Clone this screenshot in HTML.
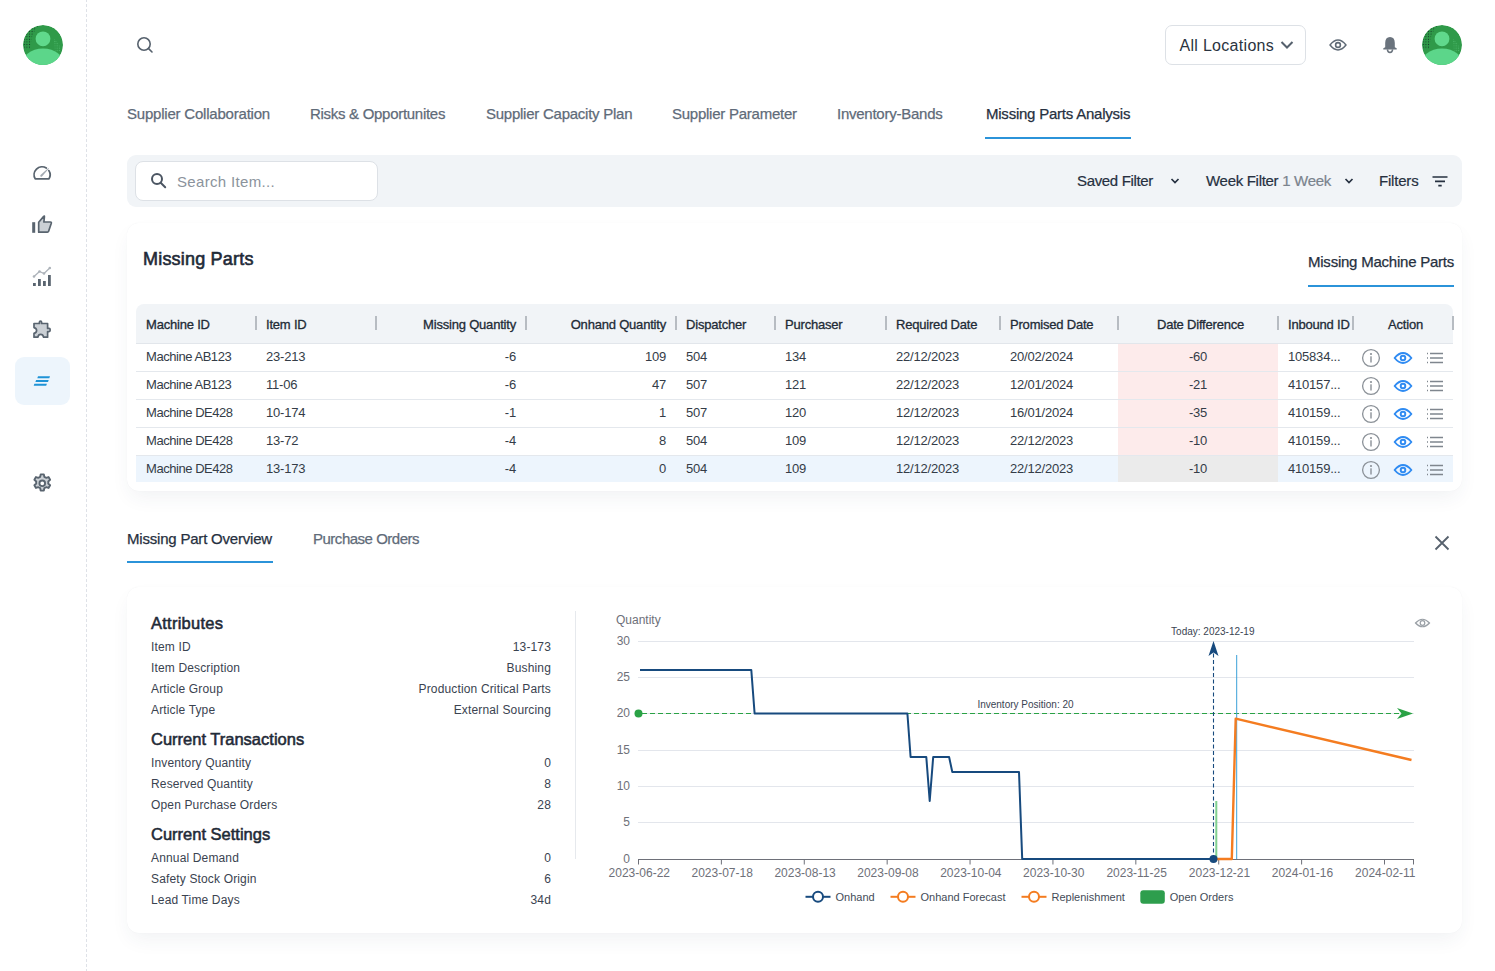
<!DOCTYPE html>
<html><head><meta charset="utf-8">
<style>
*{box-sizing:border-box;margin:0;padding:0}
html,body{width:1495px;height:971px;overflow:hidden;background:#fff;font-family:"Liberation Sans",sans-serif;color:#263040}
.a{position:absolute}
.t{position:absolute;white-space:nowrap;line-height:1}
.sb-line{left:86px;top:0;width:1px;height:971px;background:repeating-linear-gradient(to bottom,#dfe2e8 0 1.8px,transparent 1.8px 4px,#dfe2e8 4px 5px)}
.tab{font-size:15px;color:#5f6b79;letter-spacing:-0.25px;-webkit-text-stroke:0.25px currentColor}
.tab.on{color:#263040}
.card{background:#fff;border-radius:12px;box-shadow:0 9px 20px -3px rgba(40,60,90,0.065),0 0 1px rgba(40,60,90,0.07)}
.th{font-size:13px;font-weight:400;color:#222b36;letter-spacing:-0.2px;-webkit-text-stroke:0.3px currentColor}
.td{font-size:13px;color:#343c47;letter-spacing:-0.45px}
.sep{position:absolute;top:12px;width:2px;height:14px;background:#b7bcc2}
.row{position:absolute;left:0;width:1317px;height:28px;border-bottom:1px solid #e4e8ed}
.attr{font-size:12px;color:#3a4350;letter-spacing:0.15px}
.h3{font-size:17px;font-weight:700;color:#1f2a37;letter-spacing:-0.8px}
.ax{font-size:12px;color:#6e7079}
</style></head>
<body>
<!-- sidebar -->
<div class="a sb-line"></div>
<svg class="a" style="left:23px;top:25px" width="40" height="40" viewBox="0 0 40 40"><defs><clipPath id="c23"><circle cx="20" cy="20" r="20"/></clipPath></defs><g clip-path="url(#c23)"><circle cx="20" cy="20" r="20" fill="#2f9a49"/><defs><pattern id="dk23" width="2.6" height="2.6" patternUnits="userSpaceOnUse"><circle cx="1.3" cy="1.3" r="0.6" fill="#17402a"/></pattern><pattern id="lt23" width="2.2" height="2.2" patternUnits="userSpaceOnUse"><circle cx="1.1" cy="1.1" r="0.5" fill="#6fdc95"/></pattern></defs><path d="M1 16 Q3 3 16 1 Q11 5 9 12 Q8 18 7 24 L1 24 Z" fill="url(#dk23)"/><path d="M31 14 Q37 18 38 26 L32 28 Z" fill="url(#lt23)" opacity="0.7"/><circle cx="20" cy="13.8" r="7.4" fill="#60d98c"/><ellipse cx="20" cy="41.5" rx="22" ry="18" fill="#5cd68a"/></g></svg>
<svg class="a" style="left:28px;top:159px" width="28" height="28" viewBox="0 0 28 28"><path d="M18.3 9.0 A8 8 0 0 0 7.23 19.9 L20.97 19.9 A8 8 0 0 0 20.9 11.6" fill="none" stroke="#59646f" stroke-width="1.8" stroke-linejoin="round" stroke-linecap="round"/><path d="M12.5 16.0 L20.4 9.0 L20.9 9.5 L14.0 17.6 Q13.1 18.1 12.5 17.5 Q12.0 16.8 12.5 16.0 Z" fill="#a3aab2"/></svg>
<svg class="a" style="left:28px;top:210px" width="28" height="28" viewBox="0 0 28 28"><rect x="4.2" y="12.2" width="3" height="10.6" fill="#59646f"/><path d="M10.7 22.2 V12.2 L15.7 6.4 Q16.5 5.6 16.4 6.8 L15.9 12 H22.4 Q23.6 12 23.3 13.2 L20.6 21.3 Q20.3 22.2 19.4 22.2 Z" fill="#cbd0d5" stroke="#59646f" stroke-width="1.7" stroke-linejoin="round"/></svg>
<svg class="a" style="left:31px;top:266px" width="22" height="21" viewBox="0 0 22 21"><rect x="2" y="17" width="2.8" height="3" fill="#59646f"/><rect x="7" y="13" width="2.8" height="7" fill="#59646f"/><rect x="12" y="15" width="2.8" height="5" fill="#59646f"/><rect x="17" y="9" width="2.8" height="11" fill="#59646f"/><path d="M3 10.5 L8.5 5.5 L13 7.5 L18.8 2" fill="none" stroke="#adb3ba" stroke-width="1.3"/><circle cx="8.5" cy="5.5" r="1.3" fill="#adb3ba"/><circle cx="13" cy="7.5" r="1.3" fill="#adb3ba"/><circle cx="18.8" cy="2" r="1.3" fill="#adb3ba"/><circle cx="3" cy="10.5" r="1.3" fill="#adb3ba"/></svg>
<svg class="a" style="left:28px;top:314px" width="28" height="28" viewBox="0 0 28 28"><path d="M6 9.5 H11.4 V8.2 Q11.4 7 12.5 7 Q13.6 7 13.6 8.2 V9.5 H19.6 V14.4 H21 Q22.2 14.4 22.2 16 Q22.2 17.6 21 17.6 H19.6 V23.2 H15.6 Q15 20.4 12.7 20.4 Q10.4 20.4 9.8 23.2 H6 V19.4 Q8.6 18.8 8.6 16.5 Q8.6 14.2 6 13.6 Z" fill="#cbd0d5" stroke="#59646f" stroke-width="1.7" stroke-linejoin="round"/></svg>
<div class="a" style="left:15px;top:357px;width:55px;height:48px;border-radius:9px;background:#edf5fc"></div>
<svg class="a" style="left:33px;top:375px" width="19" height="12" viewBox="0 0 19 12"><path d="M5 1.3 H17 L16.3 3.3 H4.3 Z M3.1 5 H15.7 L15 7 H2.4 Z M1.4 8.7 H13.9 L13.2 10.7 H0.7 Z" fill="#1f93d6"/></svg>
<svg class="a" style="left:30.8px;top:471.6px" width="22.5" height="22.5" viewBox="0 0 24 24"><path d="M10.3 2.5 h3.4 l.5 2.6 a7.5 7.5 0 0 1 2 1.15 l2.5-.9 1.7 2.95 -2 1.75 a7.5 7.5 0 0 1 0 2.3 l2 1.75 -1.7 2.95 -2.5-.9 a7.5 7.5 0 0 1-2 1.15 l-.5 2.6 h-3.4 l-.5-2.6 a7.5 7.5 0 0 1-2-1.15 l-2.5.9 -1.7-2.95 2-1.75 a7.5 7.5 0 0 1 0-2.3 l-2-1.75 1.7-2.95 2.5.9 a7.5 7.5 0 0 1 2-1.15 z" fill="#cbd0d5" stroke="#59646f" stroke-width="2" stroke-linejoin="round"/><circle cx="12" cy="12" r="3" fill="#fff" stroke="#59646f" stroke-width="2"/></svg>

<!-- header -->

<svg class="a" style="left:135px;top:35px" width="20" height="20" viewBox="0 0 20 20"><circle cx="9" cy="9" r="6.2" fill="none" stroke="#56616d" stroke-width="1.6"/><path d="M13.6 13.6 L17 17" stroke="#56616d" stroke-width="1.6" stroke-linecap="round"/></svg>
<div class="a" style="left:1165px;top:25px;width:141px;height:40px;border:1px solid #dde1e6;border-radius:7px"></div>
<div class="t" style="left:1179.5px;top:38px;font-size:16px;color:#2a3340;letter-spacing:0.3px">All Locations</div>
<svg class="a" style="left:1280px;top:40px" width="14" height="10" viewBox="0 0 14 10"><path d="M1.5 2 L7 7.5 L12.5 2" fill="none" stroke="#56616d" stroke-width="2"/></svg>
<svg class="a" style="left:1328px;top:37px" width="20" height="16" viewBox="0 0 20 16"><path d="M2 8 Q10 -1.8 18 8 Q10 17.8 2 8 Z" fill="none" stroke="#5f6a76" stroke-width="1.5" stroke-linejoin="round"/><circle cx="10" cy="8" r="2.4" fill="none" stroke="#5f6a76" stroke-width="1.6"/></svg>
<svg class="a" style="left:1376px;top:31px" width="28" height="28" viewBox="0 0 28 28"><path d="M14 6 Q18.8 6 18.8 12 V16.2 L20.6 17.2 Q21.4 18.5 20.2 18.5 H7.8 Q6.6 18.5 7.4 17.2 L9.2 16.2 V12 Q9.2 6 14 6 Z" fill="#6a737d"/><path d="M11.4 18.4 Q11.6 21.4 14 21.4 Q16.4 21.4 16.6 18.4" fill="none" stroke="#6a737d" stroke-width="1.5"/></svg>
<svg class="a" style="left:1422px;top:25px" width="40" height="40" viewBox="0 0 40 40"><defs><clipPath id="c1422"><circle cx="20" cy="20" r="20"/></clipPath></defs><g clip-path="url(#c1422)"><circle cx="20" cy="20" r="20" fill="#2f9a49"/><defs><pattern id="dk1422" width="2.6" height="2.6" patternUnits="userSpaceOnUse"><circle cx="1.3" cy="1.3" r="0.6" fill="#17402a"/></pattern><pattern id="lt1422" width="2.2" height="2.2" patternUnits="userSpaceOnUse"><circle cx="1.1" cy="1.1" r="0.5" fill="#6fdc95"/></pattern></defs><path d="M1 16 Q3 3 16 1 Q11 5 9 12 Q8 18 7 24 L1 24 Z" fill="url(#dk1422)"/><path d="M31 14 Q37 18 38 26 L32 28 Z" fill="url(#lt1422)" opacity="0.7"/><circle cx="20" cy="13.8" r="7.4" fill="#60d98c"/><ellipse cx="20" cy="41.5" rx="22" ry="18" fill="#5cd68a"/></g></svg>
<!-- tabs -->

<div class="t tab" style="left:127px;top:106px;letter-spacing:-0.21px">Supplier Collaboration</div>
<div class="t tab" style="left:310px;top:106px;letter-spacing:-0.29px">Risks &amp; Opportunites</div>
<div class="t tab" style="left:486px;top:106px" id="tb3">Supplier Capacity Plan</div>
<div class="t tab" style="left:672px;top:106px" id="tb4">Supplier Parameter</div>
<div class="t tab" style="left:837px;top:106px" id="tb5">Inventory-Bands</div>
<div class="t tab on" style="left:986px;top:106px;letter-spacing:-0.23px">Missing Parts Analysis</div>
<div class="a" style="left:985px;top:137px;width:146px;height:2px;background:#2b93d9"></div>

<!-- filter bar -->

<div class="a" style="left:127px;top:155px;width:1335px;height:52px;border-radius:9px;background:#f1f4f7"></div>
<div class="a" style="left:135px;top:161px;width:243px;height:40px;border-radius:8px;background:#fff;border:1px solid #dde1e6"></div>
<svg class="a" style="left:150px;top:172px" width="18" height="18" viewBox="0 0 18 18"><circle cx="7" cy="7" r="5" fill="none" stroke="#4b5562" stroke-width="2"/><path d="M10.7 10.7 L15.2 15.2" stroke="#4b5562" stroke-width="2" stroke-linecap="round"/></svg>
<div class="t" style="left:177px;top:174px;font-size:15px;color:#8b939c;letter-spacing:0.33px">Search Item...</div>
<div class="t" style="left:1077px;top:173px;font-size:15px;color:#263040;-webkit-text-stroke:0.2px currentColor;letter-spacing:-0.34px">Saved Filter</div>
<svg class="a" style="left:1170px;top:177px" width="10" height="8" viewBox="0 0 10 8"><path d="M1.5 2 L5 5.5 L8.5 2" fill="none" stroke="#263040" stroke-width="1.7"/></svg>
<div class="t" id="wf" style="left:1206px;top:173px;font-size:15px;color:#263040;-webkit-text-stroke:0.2px currentColor;letter-spacing:-0.3px">Week Filter <span style="color:#7a838d">1 Week</span></div>
<svg class="a" style="left:1344px;top:177px" width="10" height="8" viewBox="0 0 10 8"><path d="M1.5 2 L5 5.5 L8.5 2" fill="none" stroke="#263040" stroke-width="1.7"/></svg>
<div class="t" id="fl" style="left:1379px;top:173px;font-size:15px;color:#263040;-webkit-text-stroke:0.2px currentColor;letter-spacing:-0.2px">Filters</div>
<svg class="a" style="left:1432px;top:174.7px" width="16" height="14" viewBox="0 0 16 14"><path d="M0.5 2 H15.5 M3 6.3 H13 M6.3 10.6 H9.7" stroke="#263040" stroke-width="1.7"/></svg>

<!-- missing parts card -->
<!--MPS-->
<div class="a card" style="left:127px;top:223px;width:1335px;height:268px"></div>
<div class="t" style="left:143px;top:250px;font-size:18px;font-weight:400;-webkit-text-stroke:0.6px currentColor;color:#1f2a37;letter-spacing:0.2px">Missing Parts</div>
<div class="t tab on" style="left:1308px;top:254px;letter-spacing:-0.23px">Missing Machine Parts</div>
<div class="a" style="left:1308px;top:285px;width:146px;height:2px;background:#2b93d9"></div>
<div class="a" style="left:136px;top:304px;width:1317px;height:178px">
<div class="a" style="left:0;top:0;width:1317px;height:40px;background:#f1f4f7;border-radius:8px 8px 0 0;border-bottom:1px solid #e2e6eb"></div>
<div class="t th" style="left:10px;top:13.5px;">Machine ID</div>
<div class="t th" style="left:130px;top:13.5px;">Item ID</div>
<div class="t th" style="left:240px;top:13.5px;width:140px;text-align:right;">Missing Quantity</div>
<div class="t th" style="left:390px;top:13.5px;width:140px;text-align:right;">Onhand Quantity</div>
<div class="t th" style="left:550px;top:13.5px;">Dispatcher</div>
<div class="t th" style="left:649px;top:13.5px;">Purchaser</div>
<div class="t th" style="left:760px;top:13.5px;">Required Date</div>
<div class="t th" style="left:874px;top:13.5px;">Promised Date</div>
<div class="t th" style="left:984.5px;top:13.5px;width:160px;text-align:center;">Date Difference</div>
<div class="t th" style="left:1152px;top:13.5px;">Inbound ID</div>
<div class="t th" style="left:1219.5px;top:13.5px;width:100px;text-align:center;">Action</div>
<div class="sep" style="left:119px"></div>
<div class="sep" style="left:239px"></div>
<div class="sep" style="left:389px"></div>
<div class="sep" style="left:539px"></div>
<div class="sep" style="left:638px"></div>
<div class="sep" style="left:749px"></div>
<div class="sep" style="left:863px"></div>
<div class="sep" style="left:981px"></div>
<div class="sep" style="left:1141px"></div>
<div class="sep" style="left:1216px"></div>
<div class="sep" style="left:1316px"></div>
<div class="a" style="left:0;top:67px;width:1317px;height:1px;background:#e4e8ed"></div>
<div class="a" style="left:982px;top:40px;width:160px;height:27px;background:#fdebeb"></div>
<div class="t td" style="left:10px;top:46px;letter-spacing:-0.45px">Machine AB123</div>
<div class="t td" style="left:130px;top:46px;letter-spacing:-0.2px">23-213</div>
<div class="t td" style="left:240px;top:46px;width:140px;text-align:right;letter-spacing:-0.2px">-6</div>
<div class="t td" style="left:390px;top:46px;width:140px;text-align:right;letter-spacing:-0.2px">109</div>
<div class="t td" style="left:550px;top:46px;letter-spacing:-0.2px">504</div>
<div class="t td" style="left:649px;top:46px;letter-spacing:-0.2px">134</div>
<div class="t td" style="left:760px;top:46px;letter-spacing:-0.2px">22/12/2023</div>
<div class="t td" style="left:874px;top:46px;letter-spacing:-0.2px">20/02/2024</div>
<div class="t td" style="left:982px;top:46px;width:160px;text-align:center;letter-spacing:-0.2px">-60</div>
<div class="t td" style="left:1152px;top:46px;letter-spacing:-0.2px">105834...</div>
<svg class="a" style="left:1225px;top:43.5px" width="20" height="20" viewBox="0 0 20 20"><circle cx="10" cy="10" r="8.4" fill="none" stroke="#8b9198" stroke-width="1.3"/><circle cx="10" cy="6" r="1.1" fill="#8b9198"/><rect x="9.3" y="8.3" width="1.4" height="6.2" fill="#8b9198"/></svg>
<svg class="a" style="left:1257px;top:45.5px" width="20" height="16" viewBox="0 0 20 16"><path d="M1.6 8 Q10 -2 18.4 8 Q10 18 1.6 8 Z" fill="none" stroke="#2f8bf2" stroke-width="1.9" stroke-linejoin="round"/><circle cx="10" cy="8" r="2.3" fill="none" stroke="#2f8bf2" stroke-width="1.9"/></svg>
<svg class="a" style="left:1290px;top:47.5px" width="18" height="14" viewBox="0 0 18 14"><path d="M4 1.5 H17 M4 6 H17 M4 10.5 H17" stroke="#7f868e" stroke-width="1.6"/><path d="M1 1.5 H2 M1 6 H2 M1 10.5 H2" stroke="#7f868e" stroke-width="1.4"/></svg>
<div class="a" style="left:0;top:95px;width:1317px;height:1px;background:#e4e8ed"></div>
<div class="a" style="left:982px;top:68px;width:160px;height:27px;background:#fdebeb"></div>
<div class="t td" style="left:10px;top:74px;letter-spacing:-0.45px">Machine AB123</div>
<div class="t td" style="left:130px;top:74px;letter-spacing:-0.2px">11-06</div>
<div class="t td" style="left:240px;top:74px;width:140px;text-align:right;letter-spacing:-0.2px">-6</div>
<div class="t td" style="left:390px;top:74px;width:140px;text-align:right;letter-spacing:-0.2px">47</div>
<div class="t td" style="left:550px;top:74px;letter-spacing:-0.2px">507</div>
<div class="t td" style="left:649px;top:74px;letter-spacing:-0.2px">121</div>
<div class="t td" style="left:760px;top:74px;letter-spacing:-0.2px">22/12/2023</div>
<div class="t td" style="left:874px;top:74px;letter-spacing:-0.2px">12/01/2024</div>
<div class="t td" style="left:982px;top:74px;width:160px;text-align:center;letter-spacing:-0.2px">-21</div>
<div class="t td" style="left:1152px;top:74px;letter-spacing:-0.2px">410157...</div>
<svg class="a" style="left:1225px;top:71.5px" width="20" height="20" viewBox="0 0 20 20"><circle cx="10" cy="10" r="8.4" fill="none" stroke="#8b9198" stroke-width="1.3"/><circle cx="10" cy="6" r="1.1" fill="#8b9198"/><rect x="9.3" y="8.3" width="1.4" height="6.2" fill="#8b9198"/></svg>
<svg class="a" style="left:1257px;top:73.5px" width="20" height="16" viewBox="0 0 20 16"><path d="M1.6 8 Q10 -2 18.4 8 Q10 18 1.6 8 Z" fill="none" stroke="#2f8bf2" stroke-width="1.9" stroke-linejoin="round"/><circle cx="10" cy="8" r="2.3" fill="none" stroke="#2f8bf2" stroke-width="1.9"/></svg>
<svg class="a" style="left:1290px;top:75.5px" width="18" height="14" viewBox="0 0 18 14"><path d="M4 1.5 H17 M4 6 H17 M4 10.5 H17" stroke="#7f868e" stroke-width="1.6"/><path d="M1 1.5 H2 M1 6 H2 M1 10.5 H2" stroke="#7f868e" stroke-width="1.4"/></svg>
<div class="a" style="left:0;top:123px;width:1317px;height:1px;background:#e4e8ed"></div>
<div class="a" style="left:982px;top:96px;width:160px;height:27px;background:#fdebeb"></div>
<div class="t td" style="left:10px;top:102px;letter-spacing:-0.45px">Machine DE428</div>
<div class="t td" style="left:130px;top:102px;letter-spacing:-0.2px">10-174</div>
<div class="t td" style="left:240px;top:102px;width:140px;text-align:right;letter-spacing:-0.2px">-1</div>
<div class="t td" style="left:390px;top:102px;width:140px;text-align:right;letter-spacing:-0.2px">1</div>
<div class="t td" style="left:550px;top:102px;letter-spacing:-0.2px">507</div>
<div class="t td" style="left:649px;top:102px;letter-spacing:-0.2px">120</div>
<div class="t td" style="left:760px;top:102px;letter-spacing:-0.2px">12/12/2023</div>
<div class="t td" style="left:874px;top:102px;letter-spacing:-0.2px">16/01/2024</div>
<div class="t td" style="left:982px;top:102px;width:160px;text-align:center;letter-spacing:-0.2px">-35</div>
<div class="t td" style="left:1152px;top:102px;letter-spacing:-0.2px">410159...</div>
<svg class="a" style="left:1225px;top:99.5px" width="20" height="20" viewBox="0 0 20 20"><circle cx="10" cy="10" r="8.4" fill="none" stroke="#8b9198" stroke-width="1.3"/><circle cx="10" cy="6" r="1.1" fill="#8b9198"/><rect x="9.3" y="8.3" width="1.4" height="6.2" fill="#8b9198"/></svg>
<svg class="a" style="left:1257px;top:101.5px" width="20" height="16" viewBox="0 0 20 16"><path d="M1.6 8 Q10 -2 18.4 8 Q10 18 1.6 8 Z" fill="none" stroke="#2f8bf2" stroke-width="1.9" stroke-linejoin="round"/><circle cx="10" cy="8" r="2.3" fill="none" stroke="#2f8bf2" stroke-width="1.9"/></svg>
<svg class="a" style="left:1290px;top:103.5px" width="18" height="14" viewBox="0 0 18 14"><path d="M4 1.5 H17 M4 6 H17 M4 10.5 H17" stroke="#7f868e" stroke-width="1.6"/><path d="M1 1.5 H2 M1 6 H2 M1 10.5 H2" stroke="#7f868e" stroke-width="1.4"/></svg>
<div class="a" style="left:0;top:151px;width:1317px;height:1px;background:#e4e8ed"></div>
<div class="a" style="left:982px;top:124px;width:160px;height:27px;background:#fdebeb"></div>
<div class="t td" style="left:10px;top:130px;letter-spacing:-0.45px">Machine DE428</div>
<div class="t td" style="left:130px;top:130px;letter-spacing:-0.2px">13-72</div>
<div class="t td" style="left:240px;top:130px;width:140px;text-align:right;letter-spacing:-0.2px">-4</div>
<div class="t td" style="left:390px;top:130px;width:140px;text-align:right;letter-spacing:-0.2px">8</div>
<div class="t td" style="left:550px;top:130px;letter-spacing:-0.2px">504</div>
<div class="t td" style="left:649px;top:130px;letter-spacing:-0.2px">109</div>
<div class="t td" style="left:760px;top:130px;letter-spacing:-0.2px">12/12/2023</div>
<div class="t td" style="left:874px;top:130px;letter-spacing:-0.2px">22/12/2023</div>
<div class="t td" style="left:982px;top:130px;width:160px;text-align:center;letter-spacing:-0.2px">-10</div>
<div class="t td" style="left:1152px;top:130px;letter-spacing:-0.2px">410159...</div>
<svg class="a" style="left:1225px;top:127.5px" width="20" height="20" viewBox="0 0 20 20"><circle cx="10" cy="10" r="8.4" fill="none" stroke="#8b9198" stroke-width="1.3"/><circle cx="10" cy="6" r="1.1" fill="#8b9198"/><rect x="9.3" y="8.3" width="1.4" height="6.2" fill="#8b9198"/></svg>
<svg class="a" style="left:1257px;top:129.5px" width="20" height="16" viewBox="0 0 20 16"><path d="M1.6 8 Q10 -2 18.4 8 Q10 18 1.6 8 Z" fill="none" stroke="#2f8bf2" stroke-width="1.9" stroke-linejoin="round"/><circle cx="10" cy="8" r="2.3" fill="none" stroke="#2f8bf2" stroke-width="1.9"/></svg>
<svg class="a" style="left:1290px;top:131.5px" width="18" height="14" viewBox="0 0 18 14"><path d="M4 1.5 H17 M4 6 H17 M4 10.5 H17" stroke="#7f868e" stroke-width="1.6"/><path d="M1 1.5 H2 M1 6 H2 M1 10.5 H2" stroke="#7f868e" stroke-width="1.4"/></svg>
<div class="a" style="left:0;top:152px;width:1317px;height:26px;background:#edf5fd"></div>
<div class="a" style="left:982px;top:152px;width:160px;height:26px;background:#ebebeb"></div>
<div class="t td" style="left:10px;top:158px;letter-spacing:-0.45px">Machine DE428</div>
<div class="t td" style="left:130px;top:158px;letter-spacing:-0.2px">13-173</div>
<div class="t td" style="left:240px;top:158px;width:140px;text-align:right;letter-spacing:-0.2px">-4</div>
<div class="t td" style="left:390px;top:158px;width:140px;text-align:right;letter-spacing:-0.2px">0</div>
<div class="t td" style="left:550px;top:158px;letter-spacing:-0.2px">504</div>
<div class="t td" style="left:649px;top:158px;letter-spacing:-0.2px">109</div>
<div class="t td" style="left:760px;top:158px;letter-spacing:-0.2px">12/12/2023</div>
<div class="t td" style="left:874px;top:158px;letter-spacing:-0.2px">22/12/2023</div>
<div class="t td" style="left:982px;top:158px;width:160px;text-align:center;letter-spacing:-0.2px">-10</div>
<div class="t td" style="left:1152px;top:158px;letter-spacing:-0.2px">410159...</div>
<svg class="a" style="left:1225px;top:155.5px" width="20" height="20" viewBox="0 0 20 20"><circle cx="10" cy="10" r="8.4" fill="none" stroke="#8b9198" stroke-width="1.3"/><circle cx="10" cy="6" r="1.1" fill="#8b9198"/><rect x="9.3" y="8.3" width="1.4" height="6.2" fill="#8b9198"/></svg>
<svg class="a" style="left:1257px;top:157.5px" width="20" height="16" viewBox="0 0 20 16"><path d="M1.6 8 Q10 -2 18.4 8 Q10 18 1.6 8 Z" fill="none" stroke="#2f8bf2" stroke-width="1.9" stroke-linejoin="round"/><circle cx="10" cy="8" r="2.3" fill="none" stroke="#2f8bf2" stroke-width="1.9"/></svg>
<svg class="a" style="left:1290px;top:159.5px" width="18" height="14" viewBox="0 0 18 14"><path d="M4 1.5 H17 M4 6 H17 M4 10.5 H17" stroke="#7f868e" stroke-width="1.6"/><path d="M1 1.5 H2 M1 6 H2 M1 10.5 H2" stroke="#7f868e" stroke-width="1.4"/></svg>
</div>
<!--MPE-->
<!-- bottom tabs -->

<div class="t tab on" style="left:127px;top:531px;letter-spacing:-0.2px">Missing Part Overview</div>
<div class="t tab" style="left:313px;top:531px;letter-spacing:-0.49px">Purchase Orders</div>
<div class="a" style="left:127px;top:561px;width:146px;height:2px;background:#2b93d9"></div>
<svg class="a" style="left:1433px;top:534px" width="18" height="18" viewBox="0 0 18 18"><path d="M2.5 2.5 L15.5 15.5 M15.5 2.5 L2.5 15.5" stroke="#56616d" stroke-width="1.8"/></svg>

<!-- overview card -->
<div class="a card" style="left:127px;top:587px;width:1335px;height:346px"></div>
<div class="t" style="left:151px;top:615px;font-size:16.5px;font-weight:400;-webkit-text-stroke:0.55px currentColor;color:#1f2a37;letter-spacing:0.25px">Attributes</div>
<div class="t attr" style="left:151px;top:641px">Item ID</div><div class="t attr" style="left:351px;width:200px;text-align:right;top:641px">13-173</div>
<div class="t attr" style="left:151px;top:662px">Item Description</div><div class="t attr" style="left:351px;width:200px;text-align:right;top:662px">Bushing</div>
<div class="t attr" style="left:151px;top:683px">Article Group</div><div class="t attr" style="left:351px;width:200px;text-align:right;top:683px">Production Critical Parts</div>
<div class="t attr" style="left:151px;top:704px">Article Type</div><div class="t attr" style="left:351px;width:200px;text-align:right;top:704px">External Sourcing</div>
<div class="t" style="left:151px;top:731px;font-size:16.5px;font-weight:400;-webkit-text-stroke:0.55px currentColor;color:#1f2a37;letter-spacing:0px">Current Transactions</div>
<div class="t attr" style="left:151px;top:757px">Inventory Quantity</div><div class="t attr" style="left:351px;width:200px;text-align:right;top:757px">0</div>
<div class="t attr" style="left:151px;top:778px">Reserved Quantity</div><div class="t attr" style="left:351px;width:200px;text-align:right;top:778px">8</div>
<div class="t attr" style="left:151px;top:799px">Open Purchase Orders</div><div class="t attr" style="left:351px;width:200px;text-align:right;top:799px">28</div>
<div class="t" style="left:151px;top:826px;font-size:16.5px;font-weight:400;-webkit-text-stroke:0.55px currentColor;color:#1f2a37;letter-spacing:0px">Current Settings</div>
<div class="t attr" style="left:151px;top:852px">Annual Demand</div><div class="t attr" style="left:351px;width:200px;text-align:right;top:852px">0</div>
<div class="t attr" style="left:151px;top:873px">Safety Stock Origin</div><div class="t attr" style="left:351px;width:200px;text-align:right;top:873px">6</div>
<div class="t attr" style="left:151px;top:894px">Lead Time Days</div><div class="t attr" style="left:351px;width:200px;text-align:right;top:894px">34d</div>
<div class="a" style="left:575px;top:611px;width:1px;height:248px;background:#e6e9ed"></div>
<!--CHS--><svg class="a" style="left:0;top:0" width="1495" height="971" viewBox="0 0 1495 971" font-family="Liberation Sans, sans-serif">
<text x="616" y="624" font-size="12" fill="#6e7079">Quantity</text>
<line x1="638" y1="641.5" x2="1414" y2="641.5" stroke="#e3e6ec" stroke-width="1"/>
<text x="630" y="645.0" font-size="12" fill="#6e7079" text-anchor="end">30</text>
<line x1="638" y1="677.5" x2="1414" y2="677.5" stroke="#e3e6ec" stroke-width="1"/>
<text x="630" y="681.0" font-size="12" fill="#6e7079" text-anchor="end">25</text>
<line x1="638" y1="713.5" x2="1414" y2="713.5" stroke="#e3e6ec" stroke-width="1"/>
<text x="630" y="717.0" font-size="12" fill="#6e7079" text-anchor="end">20</text>
<line x1="638" y1="750.5" x2="1414" y2="750.5" stroke="#e3e6ec" stroke-width="1"/>
<text x="630" y="754.0" font-size="12" fill="#6e7079" text-anchor="end">15</text>
<line x1="638" y1="786.5" x2="1414" y2="786.5" stroke="#e3e6ec" stroke-width="1"/>
<text x="630" y="790.0" font-size="12" fill="#6e7079" text-anchor="end">10</text>
<line x1="638" y1="822.5" x2="1414" y2="822.5" stroke="#e3e6ec" stroke-width="1"/>
<text x="630" y="826.0" font-size="12" fill="#6e7079" text-anchor="end">5</text>
<text x="630" y="863.0" font-size="12" fill="#6e7079" text-anchor="end">0</text>
<line x1="638" y1="859.5" x2="1414" y2="859.5" stroke="#6e7079" stroke-width="1"/>
<line x1="638.50" y1="859.5" x2="638.50" y2="864.5" stroke="#6e7079" stroke-width="1"/>
<text x="639.30" y="876.8" font-size="12" fill="#6e7079" text-anchor="middle">2023-06-22</text>
<line x1="721.39" y1="859.5" x2="721.39" y2="864.5" stroke="#6e7079" stroke-width="1"/>
<text x="722.19" y="876.8" font-size="12" fill="#6e7079" text-anchor="middle">2023-07-18</text>
<line x1="804.28" y1="859.5" x2="804.28" y2="864.5" stroke="#6e7079" stroke-width="1"/>
<text x="805.08" y="876.8" font-size="12" fill="#6e7079" text-anchor="middle">2023-08-13</text>
<line x1="887.17" y1="859.5" x2="887.17" y2="864.5" stroke="#6e7079" stroke-width="1"/>
<text x="887.97" y="876.8" font-size="12" fill="#6e7079" text-anchor="middle">2023-09-08</text>
<line x1="970.06" y1="859.5" x2="970.06" y2="864.5" stroke="#6e7079" stroke-width="1"/>
<text x="970.86" y="876.8" font-size="12" fill="#6e7079" text-anchor="middle">2023-10-04</text>
<line x1="1052.95" y1="859.5" x2="1052.95" y2="864.5" stroke="#6e7079" stroke-width="1"/>
<text x="1053.75" y="876.8" font-size="12" fill="#6e7079" text-anchor="middle">2023-10-30</text>
<line x1="1135.84" y1="859.5" x2="1135.84" y2="864.5" stroke="#6e7079" stroke-width="1"/>
<text x="1136.64" y="876.8" font-size="12" fill="#6e7079" text-anchor="middle">2023-11-25</text>
<line x1="1218.73" y1="859.5" x2="1218.73" y2="864.5" stroke="#6e7079" stroke-width="1"/>
<text x="1219.53" y="876.8" font-size="12" fill="#6e7079" text-anchor="middle">2023-12-21</text>
<line x1="1301.62" y1="859.5" x2="1301.62" y2="864.5" stroke="#6e7079" stroke-width="1"/>
<text x="1302.42" y="876.8" font-size="12" fill="#6e7079" text-anchor="middle">2024-01-16</text>
<line x1="1384.51" y1="859.5" x2="1384.51" y2="864.5" stroke="#6e7079" stroke-width="1"/>
<text x="1385.31" y="876.8" font-size="12" fill="#6e7079" text-anchor="middle">2024-02-11</text>
<line x1="1413.5" y1="859.5" x2="1413.5" y2="864.5" stroke="#6e7079" stroke-width="1"/>
<line x1="642" y1="713.5" x2="1400" y2="713.5" stroke="#2aa245" stroke-width="1.2" stroke-dasharray="5 3"/>
<path d="M1413 713.5 L1397 708 L1401.5 713.5 L1397 719 Z" fill="#2aa245"/>
<circle cx="638.5" cy="713.5" r="4" fill="#2aa245"/>
<text x="1025.5" y="708" font-size="10" fill="#3a4452" text-anchor="middle">Inventory Position: 20</text>
<rect x="1215.3" y="801" width="2" height="58" fill="#80d08f"/>
<line x1="1236.7" y1="655" x2="1236.7" y2="859" stroke="#3aa0d8" stroke-width="1"/>
<polyline points="640,670 751.3,670 754.6,713.5 907.4,713.5 910.6,757 926.3,757 929.7,801 933.2,757 949.1,757 952.3,772 1019,772 1022.2,859 1213.5,859" fill="none" stroke="#174a7e" stroke-width="2" stroke-linejoin="round"/>
<line x1="1213.5" y1="859" x2="1213.5" y2="652" stroke="#174a7e" stroke-width="1.1" stroke-dasharray="4 2.5"/>
<path d="M1213.5 641 L1208.5 656 L1213.5 652.5 L1218.5 656 Z" fill="#174a7e"/>
<text x="1212.8" y="635.3" font-size="10" fill="#3a4452" text-anchor="middle">Today: 2023-12-19</text>
<polyline points="1213.5,859 1231.8,859 1235.7,718.7 1411.5,760" fill="none" stroke="#f47c20" stroke-width="2.4" stroke-linejoin="round"/>
<circle cx="1213.5" cy="859" r="4" fill="#174a7e"/>
<path d="M1415.5 623 Q1422.5 615.5 1429.5 623 Q1422.5 630.5 1415.5 623 Z" fill="none" stroke="#9aa0a6" stroke-width="1.2"/><circle cx="1422.5" cy="623" r="2.3" fill="none" stroke="#9aa0a6" stroke-width="1.2"/>
<line x1="805.5" y1="896.8" x2="830.5" y2="896.8" stroke="#174a7e" stroke-width="2"/><circle cx="818.0" cy="896.8" r="5" fill="#fff" stroke="#174a7e" stroke-width="2"/><text x="835.5" y="900.8" font-size="11" fill="#434b57">Onhand</text>
<line x1="890.5" y1="896.8" x2="915.5" y2="896.8" stroke="#f47c20" stroke-width="2"/><circle cx="903.0" cy="896.8" r="5" fill="#fff" stroke="#f47c20" stroke-width="2"/><text x="920.5" y="900.8" font-size="11" fill="#434b57">Onhand Forecast</text>
<line x1="1021.5" y1="896.8" x2="1046.5" y2="896.8" stroke="#f47c20" stroke-width="2"/><circle cx="1034.0" cy="896.8" r="5" fill="#fff" stroke="#f47c20" stroke-width="2"/><text x="1051.5" y="900.8" font-size="11" fill="#434b57">Replenishment</text>
<rect x="1140.3" y="890.3" width="24.5" height="13.5" rx="3" fill="#2e9e4d"/><text x="1169.8" y="900.8" font-size="11" fill="#434b57">Open Orders</text>
</svg><!--CHE-->
</body></html>
